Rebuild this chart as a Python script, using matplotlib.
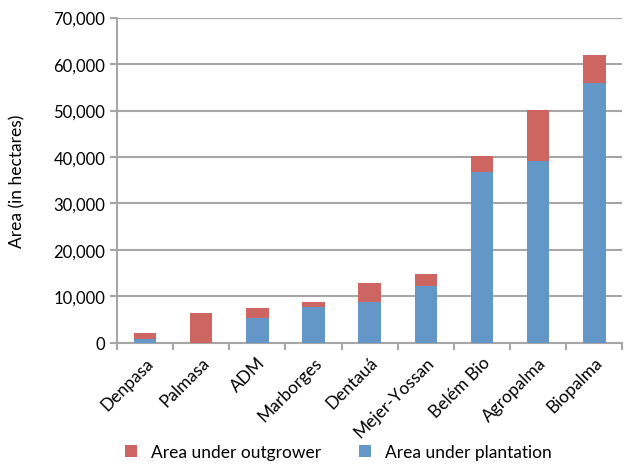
import matplotlib.pyplot as plt
from matplotlib.ticker import FuncFormatter

plt.rcParams['font.family'] = ['Lato', 'DejaVu Sans']

companies = ["Denpasa", "Palmasa", "ADM", "Marborges", "Dentauá",
             "Mejer-Yossan", "Belém Bio", "Agropalma", "Biopalma"]
plantation = [800, 0, 5300, 7700, 8800, 12300, 36800, 39200, 55900]
outgrower = [1400, 6500, 2150, 1200, 4000, 2500, 3400, 11000, 6000]

blue = "#6297C8"
red = "#CD6560"
grid_grey = "#A6A6A6"

fig = plt.figure(figsize=(6.24, 4.77), dpi=100)
ax = fig.add_axes([0.1875, 0.279, 0.81, 0.682])

x = range(len(companies))
b1 = ax.bar(x, plantation, width=0.4, color=blue, zorder=3,
            label="Area under plantation")
b2 = ax.bar(x, outgrower, width=0.4, bottom=plantation, color=red, zorder=3,
            label="Area under outgrower")

ax.set_ylim(0, 70000)
ax.set_xlim(-0.5, len(companies) - 0.5)
ax.set_yticks(range(0, 70001, 10000))
ax.yaxis.set_major_formatter(FuncFormatter(lambda v, p: f"{int(v):,}"))
ax.yaxis.grid(True, color=grid_grey, linewidth=1.5, zorder=0)
ax.set_axisbelow(True)

ax.set_xticks(list(x))
ax.set_xticklabels(companies, rotation=45, ha="right", rotation_mode="anchor",
                   fontsize=12.5)
# tick marks sit between categories
ax.set_xticks([i + 0.5 for i in range(-1, len(companies))], minor=True)
ax.tick_params(axis="x", which="major", length=0, pad=8)
ax.tick_params(axis="x", which="minor", length=5, color=grid_grey, width=1.5)
ax.tick_params(axis="y", length=5, color=grid_grey, width=1.5, labelsize=12)

for side in ["top", "right"]:
    ax.spines[side].set_visible(False)
for side in ["left", "bottom"]:
    ax.spines[side].set_color(grid_grey)
    ax.spines[side].set_linewidth(1.5)

ax.set_ylabel("Area (in hectares)", fontsize=12.5, labelpad=20)

fig.legend([b2, b1], ["Area under outgrower", "Area under plantation"],
           loc="lower center", bbox_to_anchor=(0.542, 0.0), ncol=2,
           frameon=False, fontsize=12.5, handlelength=0.7, handleheight=0.7,
           columnspacing=2.2)

fig.savefig("out.png", dpi=100)
